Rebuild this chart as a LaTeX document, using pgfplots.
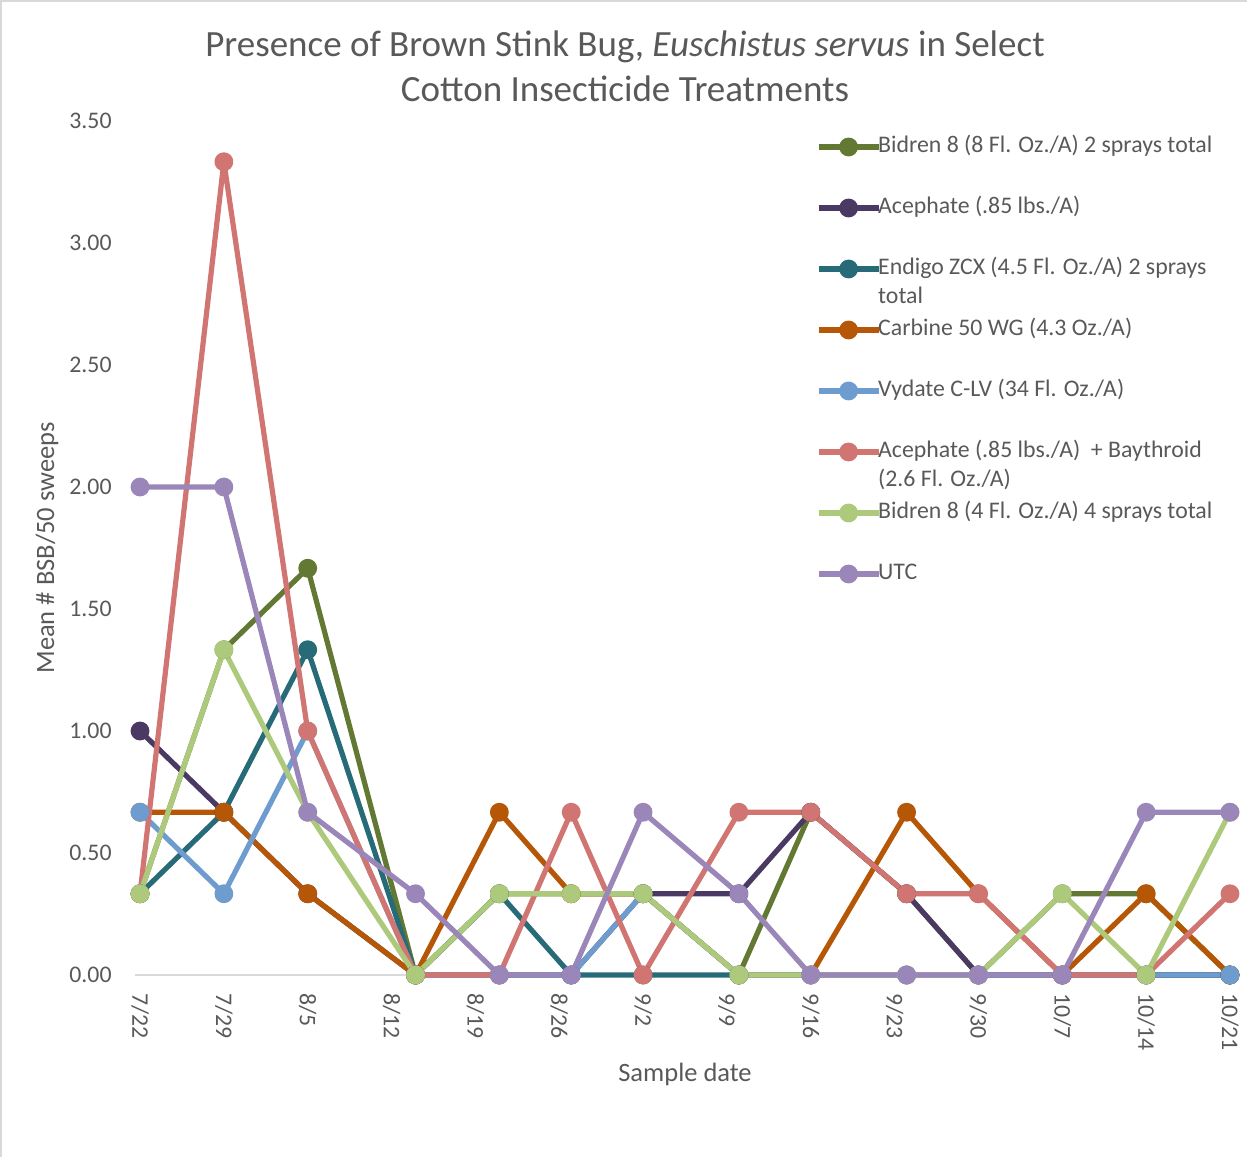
\documentclass[border=0pt]{standalone}
\usepackage{pgfplots}
\pgfplotsset{compat=1.18}
\usepackage{fontspec}
\setmainfont{Carlito}
\definecolor{txt}{HTML}{595959}
\definecolor{axl}{HTML}{D9D9D9}
\definecolor{cOlive}{HTML}{637832}
\definecolor{cPurple}{HTML}{4A3A63}
\definecolor{cTeal}{HTML}{276B78}
\definecolor{cOrange}{HTML}{B65708}
\definecolor{cBlue}{HTML}{6E9CCF}
\definecolor{cPink}{HTML}{D07572}
\definecolor{cLgreen}{HTML}{ADC97B}
\definecolor{cLav}{HTML}{9B86BA}
\begin{document}
\begin{tikzpicture}
\path[use as bounding box] (0pt,0pt) rectangle (623.5pt,578.5pt);
\draw[axl, line width=1pt] (0.5pt,0pt) -- (0.5pt,578pt) -- (623.5pt,578pt);
\begin{axis}[
  at={(67.5pt,91pt)}, anchor=south west,
  scale only axis, width=550pt, height=427pt,
  xmin=-0.42, xmax=91.42, ymin=0, ymax=3.5,
  clip=false,
  axis x line*=bottom, axis y line*=left,
  x axis line style={draw=axl, line width=0.75pt, -},
  y axis line style={draw=none},
  major tick length=0pt,
  xtick={0,7,14,21,28,35,42,49,56,63,70,77,84,91},
  xticklabels={7/22,7/29,8/5,8/12,8/19,8/26,9/2,9/9,9/16,9/23,9/30,10/7,10/14,10/21},
  ytick={0,0.5,1,1.5,2,2.5,3,3.5},
  yticklabel style={/pgf/number format/fixed, /pgf/number format/fixed zerofill, /pgf/number format/precision=2, /pgf/number format/assume math mode=true},
  ticklabel style={font=\fontsize{11.9pt}{14.5pt}\selectfont, text=txt, inner sep=0pt},
  xticklabel style={rotate=-90, anchor=west, xshift=9pt},
  yticklabel style={anchor=east, xshift=-11.5pt},
  xlabel={Sample date},
  ylabel={Mean \# BSB/50 sweeps},
  label style={font=\fontsize{13.25pt}{16pt}\selectfont, text=txt},
  xlabel style={at={(axis description cs:0.5,-0.117)}, anchor=center},
  ylabel style={at={(axis description cs:-0.08,0.5)}, anchor=center, rotate=0},
  every axis plot/.append style={line width=2.6pt, line join=round, mark=*, mark size=3.4pt},
  legend image code/.code={\draw[mark repeat=2,mark phase=2,yshift=9pt,#1] plot coordinates {(0pt,0pt) (15pt,0pt) (30pt,0pt)};},
  legend cell align=left,
  legend style={at={(axis description cs:0.6191,0.9842)}, anchor=north west, draw=none, fill=none, inner sep=0pt, outer sep=0pt, row sep=0pt, column sep=-1.5pt,
    font=\fontsize{11.9pt}{14.5pt}\selectfont, text=txt,
    nodes={inner sep=0pt, text height=9pt, text depth=21.5pt}},
]
\addplot[cOlive, mark options={fill=cOlive}] coordinates {(0,0.333)(7,1.333)(14,1.667)(23,0)(30,0.333)(36,0.333)(42,0.333)(50,0)(56,0.667)(64,0.333)(70,0)(77,0.333)(84,0.333)(91,0)};
\addlegendentry{Bidren 8 (8 Fl. Oz./A) 2 sprays total}
\addplot[cPurple, mark options={fill=cPurple}] coordinates {(0,1)(7,0.667)(14,0.333)(23,0)(30,0)(36,0)(42,0.333)(50,0.333)(56,0.667)(64,0.333)(70,0)(77,0)(84,0)(91,0)};
\addlegendentry{Acephate (.85 lbs./A)}
\addplot[cTeal, mark options={fill=cTeal}] coordinates {(0,0.333)(7,0.667)(14,1.333)(23,0)(30,0.333)(36,0)(42,0)(50,0)(56,0)(64,0)(70,0)(77,0)(84,0)(91,0)};
\addlegendentry{\parbox[t]{180pt}{Endigo ZCX (4.5 Fl. Oz./A) 2 sprays\\total}}
\addplot[cOrange, mark options={fill=cOrange}] coordinates {(0,0.667)(7,0.667)(14,0.333)(23,0)(30,0.667)(36,0.333)(42,0.333)(50,0)(56,0)(64,0.667)(70,0.333)(77,0)(84,0.333)(91,0)};
\addlegendentry{Carbine 50 WG (4.3 Oz./A)}
\addplot[cBlue, mark options={fill=cBlue}] coordinates {(0,0.667)(7,0.333)(14,1)(23,0)(30,0)(36,0)(42,0.333)(50,0)(56,0)(64,0)(70,0)(77,0)(84,0)(91,0)};
\addlegendentry{Vydate C-LV (34 Fl. Oz./A)}
\addplot[cPink, mark options={fill=cPink}] coordinates {(0,0.333)(7,3.333)(14,1)(23,0)(30,0)(36,0.667)(42,0)(50,0.667)(56,0.667)(64,0.333)(70,0.333)(77,0)(84,0)(91,0.333)};
\addlegendentry{\parbox[t]{180pt}{Acephate (.85 lbs./A) \ + Baythroid\\(2.6 Fl. Oz./A)}}
\addplot[cLgreen, mark options={fill=cLgreen}] coordinates {(0,0.333)(7,1.333)(14,0.667)(23,0)(30,0.333)(36,0.333)(42,0.333)(50,0)(56,0)(64,0)(70,0)(77,0.333)(84,0)(91,0.667)};
\addlegendentry{Bidren 8 (4 Fl. Oz./A) 4 sprays total}
\addplot[cLav, mark options={fill=cLav}] coordinates {(0,2)(7,2)(14,0.667)(23,0.333)(30,0)(36,0)(42,0.667)(50,0.333)(56,0)(64,0)(70,0)(77,0)(84,0.667)(91,0.667)};
\addlegendentry{UTC}
\end{axis}
\node[anchor=base, text=txt, font=\fontsize{18.5pt}{22.5pt}\selectfont] at (312.5pt,550.25pt) {Presence of Brown Stink Bug, \textit{Euschistus servus} in Select};
\node[anchor=base, text=txt, font=\fontsize{18.5pt}{22.5pt}\selectfont] at (312.5pt,527.75pt) {Cotton Insecticide Treatments};
\end{tikzpicture}
\end{document}
